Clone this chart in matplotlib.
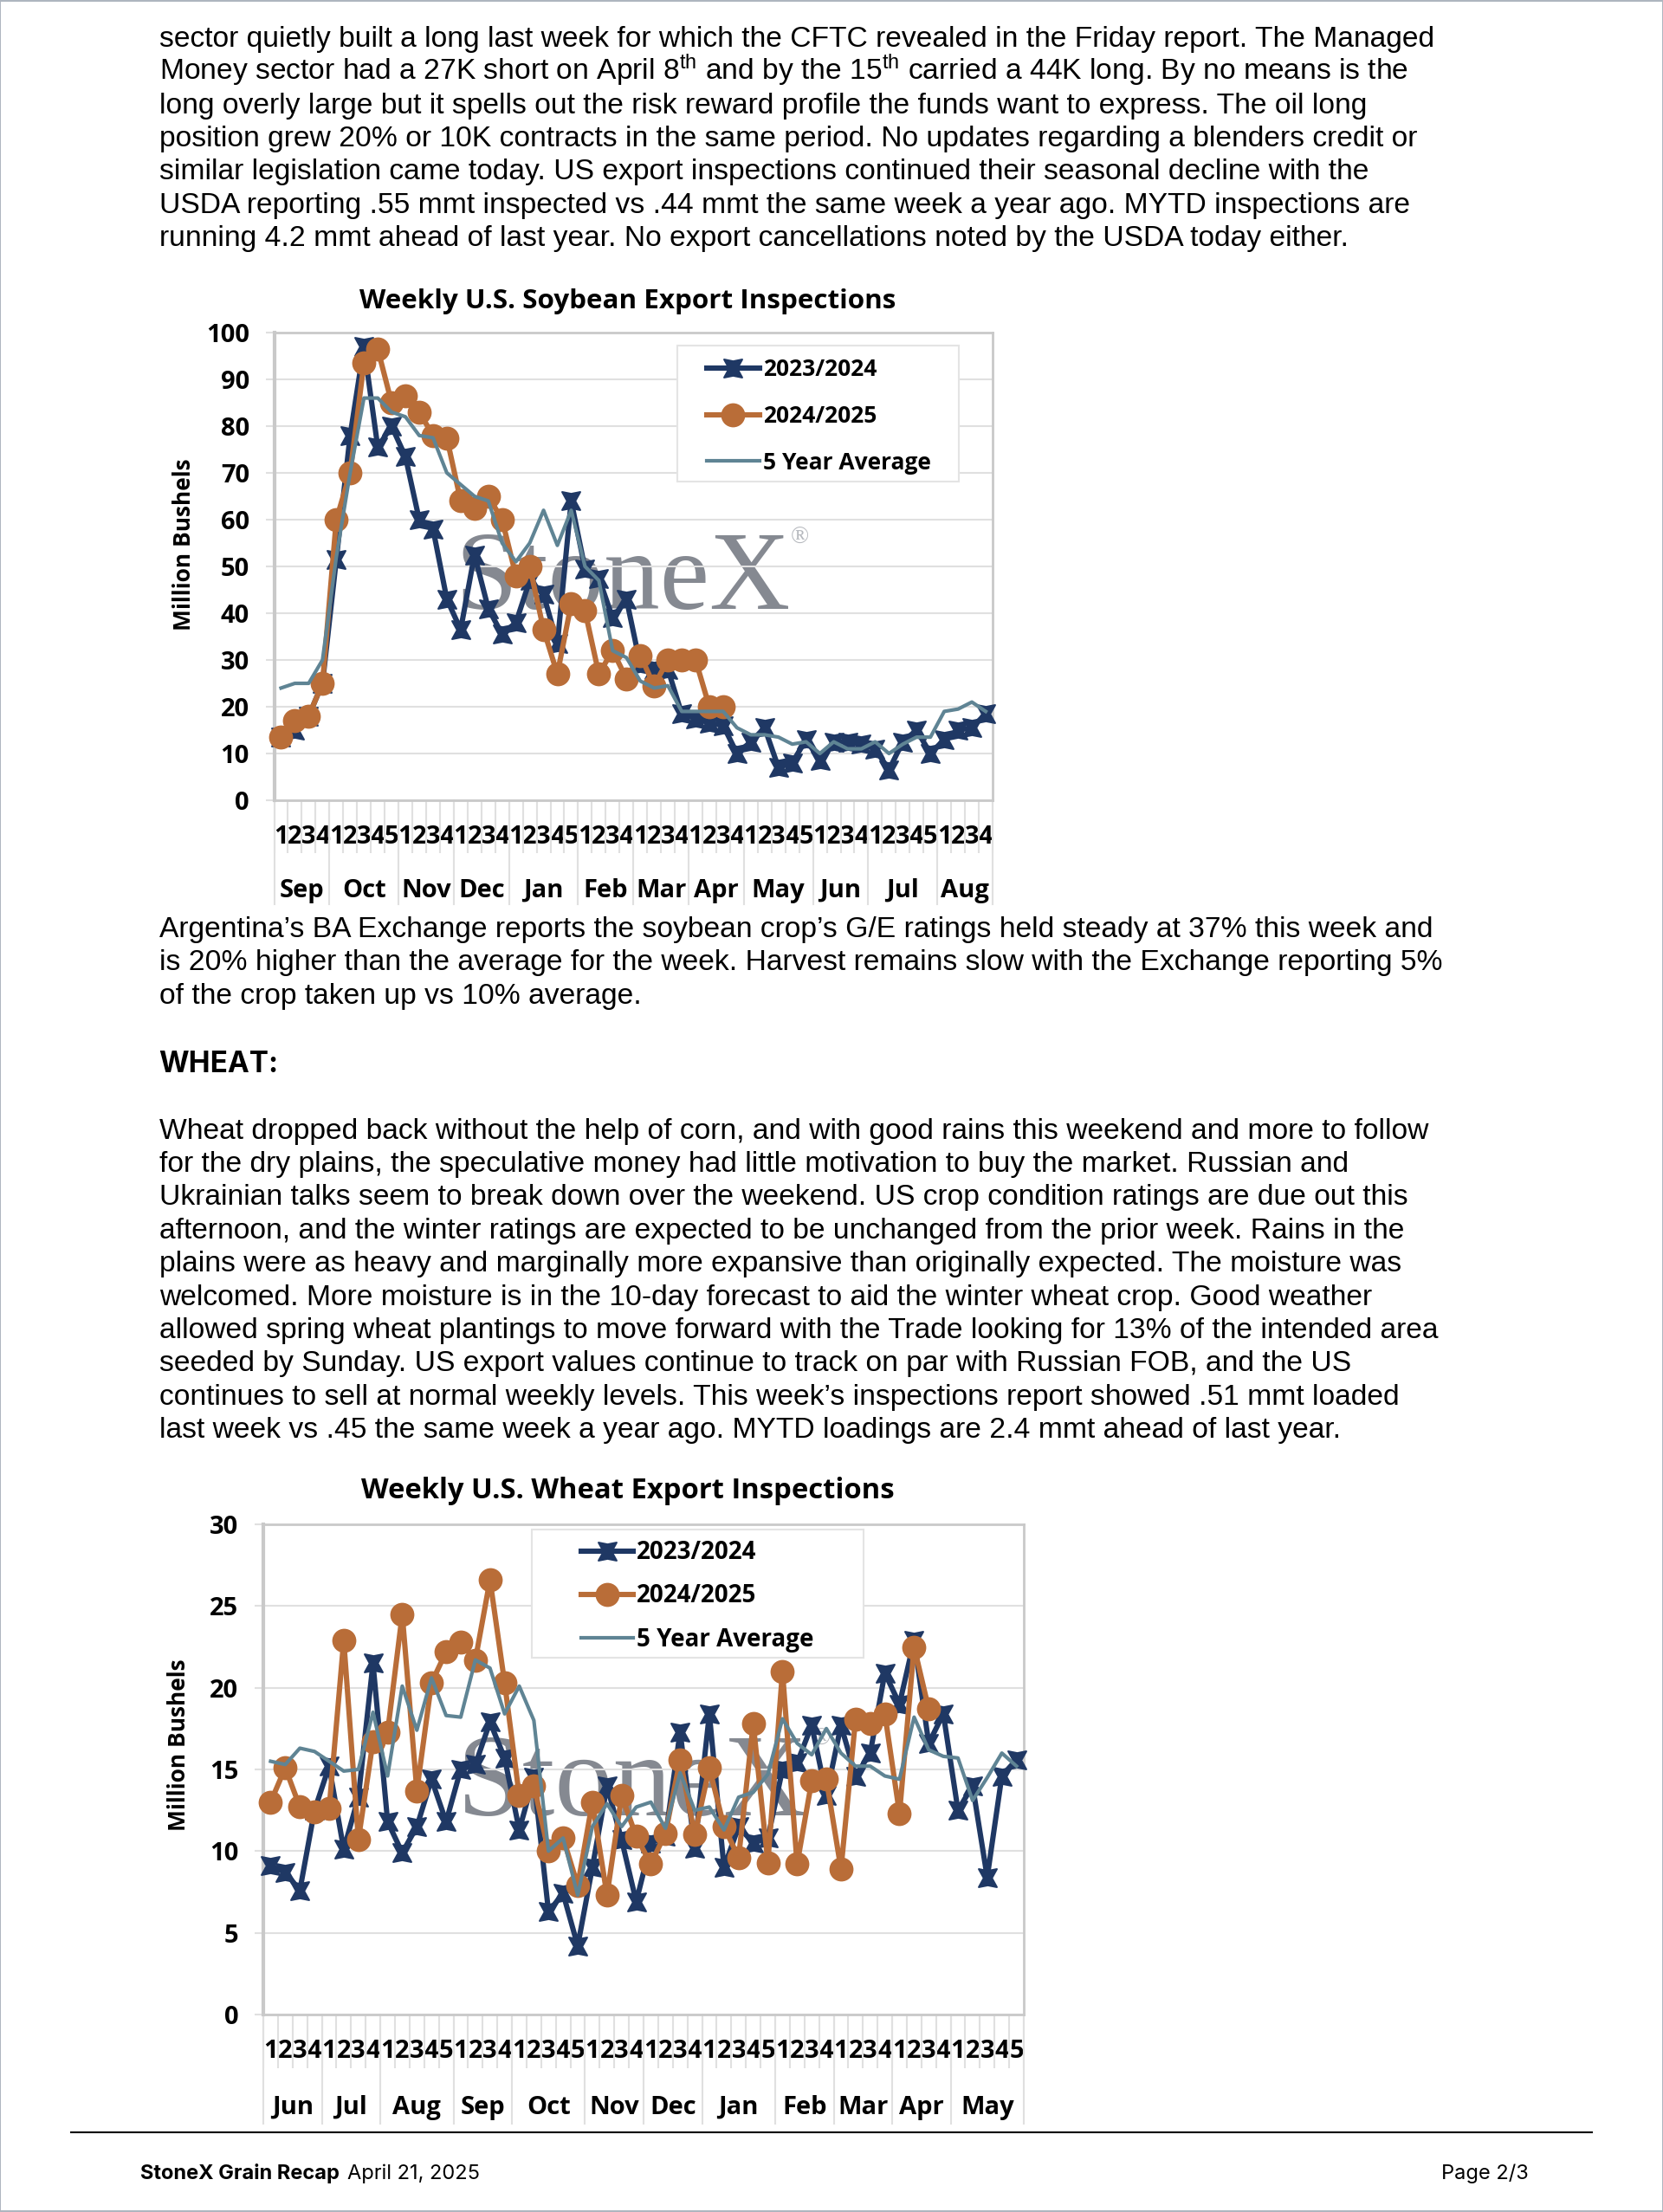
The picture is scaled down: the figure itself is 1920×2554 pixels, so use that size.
import matplotlib
matplotlib.use("Agg")
import matplotlib.pyplot as plt
from matplotlib.patches import Rectangle
from matplotlib.path import Path
from matplotlib.lines import Line2D

W, H = 1920, 2554

# weekly values
soy_2324 = [13.5, 15, 18, 25, 51.5, 78, 97, 75.5, 80, 73.5, 60, 58, 43, 36.5, 52.5, 41, 35.5, 38, 47, 44,
            33.5, 64, 49.5, 47.5, 39, 43, 29, 28, 28, 18.5, 17.5, 16.5, 16, 10, 12.5, 15.5, 7, 8, 13, 8.5,
            12.5, 12.5, 12, 11, 6.5, 12.5, 15, 10, 13, 15, 15.5, 18.5]
soy_2425 = [13.5, 17, 18, 25, 60, 70, 93.5, 96.5, 85, 86.5, 83, 78, 77.5, 64, 62.5, 65, 60, 48, 50, 36.5,
            27, 42, 40.5, 27, 32, 26, 31, 24.5, 30, 30, 30, 20, 20]
soy_avg = [24, 25, 25, 30, 52, 70, 86, 86, 83, 82, 78, 77.5, 70, 67.5, 65, 64, 55, 51, 55, 62,
           54.5, 62, 50, 47, 32, 30.5, 25.5, 24, 24.5, 19, 19, 19, 19, 15.5, 14, 14, 13.5, 12, 12.5, 10,
           12.5, 11, 11, 12.5, 10, 12, 13.5, 13.5, 19, 19.5, 21, 19]
soy_weeks = [1, 2, 3, 4, 1, 2, 3, 4, 5, 1, 2, 3, 4, 1, 2, 3, 4, 1, 2, 3, 4, 5, 1, 2, 3, 4,
             1, 2, 3, 4, 1, 2, 3, 4, 1, 2, 3, 4, 5, 1, 2, 3, 4, 1, 2, 3, 4, 5, 1, 2, 3, 4]
soy_months = ["Sep", "Oct", "Nov", "Dec", "Jan", "Feb", "Mar", "Apr", "May", "Jun", "Jul", "Aug"]
soy_yticks = [0, 10, 20, 30, 40, 50, 60, 70, 80, 90, 100]

wheat_2324 = [9.1, 8.7, 7.6, 12.5, 15.2, 10.1, 13.3, 21.5, 11.8, 9.9, 11.5, 14.4, 11.8, 15, 15.3, 17.9, 15.7,
              11.3, 14.5, 6.3, 7.4, 4.2, 9, 14, 10.7, 6.9, 10.5, 10.9, 17.3, 10.2, 18.4, 9, 11.5, 10.5, 10.8,
              15, 15.4, 17.7, 13.4, 17.7, 14.6, 16, 20.9, 19, 22.9, 16.6, 18.4, 12.5, 14, 8.4, 14.6, 15.6]
wheat_2425 = [13, 15.1, 12.7, 12.4, 12.6, 22.9, 10.7, 16.7, 17.3, 24.5, 13.7, 20.3, 22.2, 22.8, 21.7, 26.6, 20.3,
              13.4, 14, 10, 10.8, 7.9, 13, 7.3, 13.4, 10.9, 9.2, 11.1, 15.6, 11, 15.1, 11.5, 9.6, 17.8, 9.3,
              21, 9.2, 14.3, 14.4, 8.9, 18.1, 17.8, 18.4, 12.3, 22.5, 18.7]
wheat_avg = [15.5, 15.3, 16.3, 16.1, 15.5, 14.9, 15, 18.5, 14.6, 20.1, 17.4, 20.6, 18.3, 18.2, 21.7, 21.2, 18.4,
             20.1, 18, 10, 10.8, 7.3, 11.5, 12.9, 11.5, 12.7, 13, 11.4, 14.8, 12.5, 12.7, 11.3, 13.3, 13.6, 14.7,
             18.1, 16.6, 15.9, 17.5, 16, 15.2, 15.2, 14.6, 14.4, 18.2, 16.2, 15.8, 15.7, 13.1, 14.5, 16, 15.2]
wheat_weeks = [1, 2, 3, 4, 1, 2, 3, 4, 1, 2, 3, 4, 5, 1, 2, 3, 4, 1, 2, 3, 4, 5, 1, 2, 3, 4,
               1, 2, 3, 4, 1, 2, 3, 4, 5, 1, 2, 3, 4, 1, 2, 3, 4, 1, 2, 3, 4, 1, 2, 3, 4, 5]
wheat_months = ["Jun", "Jul", "Aug", "Sep", "Oct", "Nov", "Dec", "Jan", "Feb", "Mar", "Apr", "May"]
wheat_yticks = [0, 5, 10, 15, 20, 25, 30]

series_names = ["2023/2024", "2024/2025", "5 Year Average"]

para1 = ["sector quietly built a long last week for which the CFTC revealed in the Friday report. The Managed",
         "Money sector had a 27K short on April 8$^{th}$ and by the 15$^{th}$ carried a 44K long. By no means is the",
         "long overly large but it spells out the risk reward profile the funds want to express. The oil long",
         "position grew 20% or 10K contracts in the same period. No updates regarding a blenders credit or",
         "similar legislation came today. US export inspections continued their seasonal decline with the",
         "USDA reporting .55 mmt inspected vs .44 mmt the same week a year ago. MYTD inspections are",
         "running 4.2 mmt ahead of last year. No export cancellations noted by the USDA today either."]
para2 = ["Argentina’s BA Exchange reports the soybean crop’s G/E ratings held steady at 37% this week and",
         "is 20% higher than the average for the week. Harvest remains slow with the Exchange reporting 5%",
         "of the crop taken up vs 10% average."]
para3 = ["Wheat dropped back without the help of corn, and with good rains this weekend and more to follow",
         "for the dry plains, the speculative money had little motivation to buy the market. Russian and",
         "Ukrainian talks seem to break down over the weekend. US crop condition ratings are due out this",
         "afternoon, and the winter ratings are expected to be unchanged from the prior week. Rains in the",
         "plains were as heavy and marginally more expansive than originally expected. The moisture was",
         "welcomed. More moisture is in the 10-day forecast to aid the winter wheat crop. Good weather",
         "allowed spring wheat plantings to move forward with the Trade looking for 13% of the intended area",
         "seeded by Sunday. US export values continue to track on par with Russian FOB, and the US",
         "continues to sell at normal weekly levels. This week’s inspections report showed .51 mmt loaded",
         "last week vs .45 the same week a year ago. MYTD loadings are 2.4 mmt ahead of last year."]

NAVY = "#1f3864"
ORANGE = "#b96d38"
TEAL = "#5f8494"
GRID = "#e0e0e0"
EDGE = "#c9c9c9"
WMARK = "#858991"
CHART_FONT = "Open Sans"

plt.rcParams["mathtext.default"] = "regular"

# bloated X, the star marker of the original chart
star = Path([(-1, 1), (0, 0.8), (1, 1), (0.45, 0), (1, -1), (0, -0.8), (-1, -1), (-0.45, 0), (-1, 1)], closed=True)
navy_style = dict(color=NAVY, lw=4.4, marker=star, ms=15, mew=1.5, mfc=NAVY, mec=NAVY)
orange_style = dict(color=ORANGE, lw=4.4, marker="o", ms=20, mec=ORANGE, mew=0)
teal_style = dict(color=TEAL, lw=3.0)


def fx(x):
    return x / W


def fy(y):
    return 1 - y / H


def page_text(x, y, s, **kw):
    kw.setdefault("family", "Liberation Sans")
    kw.setdefault("fontsize", 24.2)
    kw.setdefault("color", "black")
    return fig.text(fx(x), fy(y), s, va="baseline", **kw)


def paragraph(lines, y0):
    for i, line in enumerate(lines):
        page_text(184, y0 + i * 38.4, line)


def draw_chart(box, y1, y2, y3, weeks, months, yticks, title, title_y, title_fs, ylabel_xy, legend_box, legend_kw,
               wm, tick_len, month_len, month_y, digit_pad):
    left, top, right, bottom = box
    h = bottom - top
    ax = fig.add_axes([fx(left), fy(bottom), fx(right - left), h / H])
    ax.plot(range(len(y1)), y1, zorder=3, clip_on=False, **navy_style)
    ax.plot(range(len(y2)), y2, zorder=4, clip_on=False, **orange_style)
    ax.plot(range(len(y3)), y3, zorder=5, **teal_style)

    ax.set_xlim(-0.5, len(weeks) - 0.5)
    ax.set_ylim(yticks[0], yticks[-1])
    ax.set_yticks(yticks)
    ax.set_axisbelow("line")
    ax.yaxis.grid(True, color=GRID, lw=1.5)
    for s in ax.spines.values():
        s.set_color(EDGE)
        s.set_linewidth(2)
    ax.spines["left"].set_linewidth(3)
    ax.tick_params(axis="y", length=7.5, width=1.5, color=GRID, pad=13)
    ax.set_yticklabels(yticks, fontsize=21, fontweight="bold", family=CHART_FONT)
    ax.set_xticks(range(len(weeks)))
    ax.set_xticklabels(weeks, fontsize=21, fontweight="bold", family=CHART_FONT)
    ax.tick_params(axis="x", which="major", length=0, pad=digit_pad)

    # week separators under the axis, month separators go further down
    ax.set_xticks([i - 0.5 for i in range(len(weeks) + 1)], minor=True)
    ax.tick_params(axis="x", which="minor", length=tick_len, width=1.5, color=GRID)
    trans = ax.get_xaxis_transform()
    start = 0
    for m in months:
        n = 1
        while start + n < len(weeks) and weeks[start + n] != 1:
            n += 1
        ax.plot([start - 0.5, start - 0.5], [0, -month_len / h], transform=trans, color=GRID, lw=1.5, clip_on=False)
        ax.text(start + n / 2 - 0.5, -month_y / h, m, transform=trans, ha="center", va="center_baseline",
                fontsize=21, fontweight="bold", family=CHART_FONT)
        start += n
    ax.plot([len(weeks) - 0.5] * 2, [0, -month_len / h], transform=trans, color=GRID, lw=1.5, clip_on=False)

    # faded logo behind the lines
    ax.text(fx(wm[0]), fy(wm[1]), "StoneX", transform=fig.transFigure, family="Liberation Serif", fontsize=wm[4],
            color=WMARK, zorder=1, ha="right", va="baseline")
    ax.text(fx(wm[2]), fy(wm[3]), "®", transform=fig.transFigure, family="Liberation Serif", fontsize=20,
            color="#b5b8bd", zorder=1, ha="center", va="center")

    lx0, ly0, lx1, ly1 = legend_box
    ax.add_patch(Rectangle((fx(lx0), fy(ly1)), fx(lx1 - lx0), (ly1 - ly0) / H, transform=fig.transFigure,
                           fc="white", ec="#e4e4e4", lw=1.5, zorder=6))
    handles = [Line2D([], [], **navy_style), Line2D([], [], **orange_style), Line2D([], [], **teal_style)]
    leg = ax.legend(handles, series_names, loc="center left", frameon=False, borderpad=0, borderaxespad=0,
                    bbox_to_anchor=(fx(legend_kw["x"]), fy((ly0 + ly1) / 2 + 3)), bbox_transform=fig.transFigure,
                    handlelength=legend_kw["hl"], handletextpad=0.15, labelspacing=legend_kw["ls"],
                    prop={"family": CHART_FONT, "weight": "bold", "size": legend_kw["fs"]})
    leg.set_zorder(7)

    fig.text(fx(725), fy(title_y), title, ha="center", va="baseline", family=CHART_FONT, fontweight="bold",
             fontsize=title_fs)
    fig.text(fx(ylabel_xy[0]), fy(ylabel_xy[1]), "Million Bushels", rotation=90, ha="center", va="center",
             family=CHART_FONT, fontweight="bold", fontsize=19)
    return ax


fig = plt.figure(figsize=(W / 100, H / 100), dpi=100, facecolor="white")

# grey page edge
for r in [(0, 0, W, 2), (0, H - 2, W, 2), (0, 0, 1, H), (W - 1, 0, 1, H)]:
    fig.add_artist(Rectangle((fx(r[0]), fy(r[1] + r[3])), r[2] / W, r[3] / H, transform=fig.transFigure,
                             fc="#aeb5bf", ec="none"))

paragraph(para1, 53.8)
draw_chart((316.5, 384, 1146, 924), soy_2324, soy_2425, soy_avg, soy_weeks, soy_months, soy_yticks,
           "Weekly U.S. Soybean Export Inspections", 356, 22.6, (213, 629), (782, 399, 1107, 556),
           {"x": 816, "hl": 2.3, "ls": 1.01, "fs": 19}, (913, 703, 923, 621, 93), 44, 120, 101, 20.5)
paragraph(para2, 1082)
page_text(183, 1238, "WHEAT:", family="Inter", fontweight="bold", fontsize=24)
paragraph(para3, 1314.5)
draw_chart((304, 1760, 1182, 2326), wheat_2324, wheat_2425, wheat_avg, wheat_weeks, wheat_months, wheat_yticks,
           "Weekly U.S. Wheat Export Inspections", 1730, 23.6, (206, 2015), (614, 1766, 997, 1914),
           {"x": 671, "hl": 2.16, "ls": 0.76, "fs": 20}, (932, 2096, 948, 2008, 97), 44.5, 126, 104, 20.5)

fig.add_artist(Line2D([fx(82), fx(1838)], [fy(2462), fy(2462)], color="black", lw=1.5, transform=fig.transFigure))
page_text(162, 2516, "StoneX Grain Recap", family="Inter", fontweight="bold", fontsize=17)
page_text(401, 2516, "April 21, 2025", family="Inter", fontsize=17)
page_text(1765, 2516, "Page 2/3", family="Inter", fontsize=17, ha="right")

fig.savefig("out.png", dpi=100)
